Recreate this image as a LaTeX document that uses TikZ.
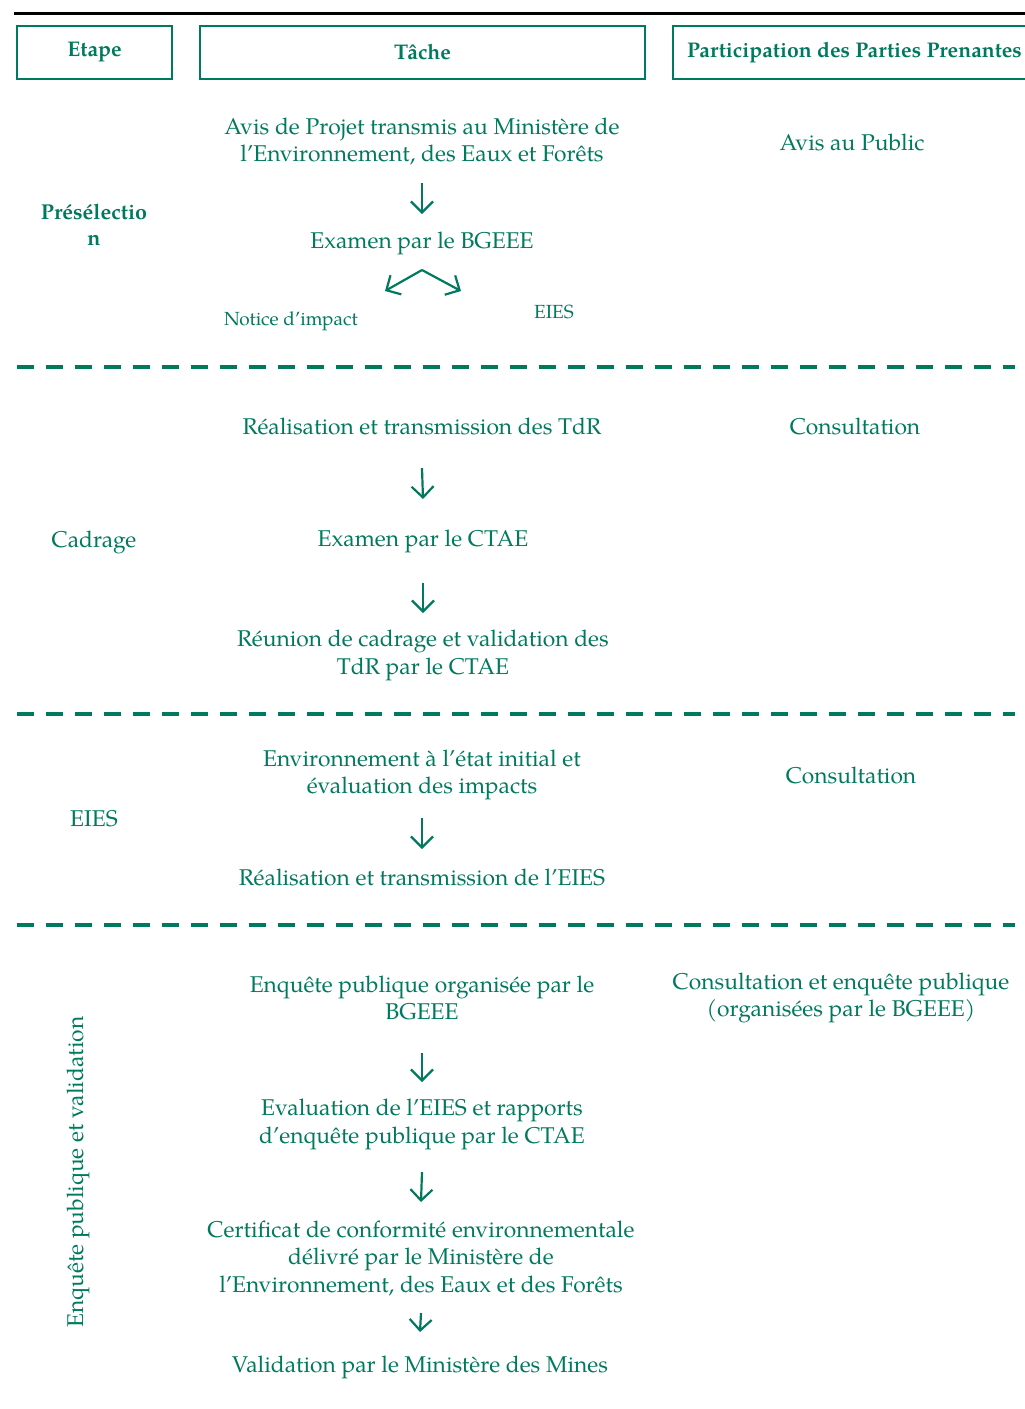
\documentclass[tikz,border=0pt]{standalone}
\usepackage{fontspec}
\setmainfont{TeX Gyre Pagella}
\usetikzlibrary{arrows.meta}
\definecolor{vert}{RGB}{0,122,94}
\begin{document}
\begin{tikzpicture}[x=1pt,y=-1pt,
  txt/.style={text=vert, font=\fontsize{22.8}{27.5}\selectfont, align=center, inner sep=0pt},
  small/.style={text=vert, font=\fontsize{19}{23}\selectfont, inner sep=0pt},
  bold/.style={text=vert, font=\bfseries\fontsize{21.5}{26}\selectfont, align=center, inner sep=0pt},
  hdr/.style={draw=vert, line width=2.5pt, text=vert, font=\bfseries\fontsize{21.2}{24}\selectfont, inner sep=0pt, minimum height=53pt},
  arr/.style={draw=vert, line width=2.2pt, -{Straight Barb[length=11pt,width=22pt,line width=2.2pt]}},
  sep/.style={draw=vert, line width=3.5pt, dash pattern=on 17pt off 12pt}]
\clip (0,0) rectangle (1025,1409);
\fill[white] (0,0) rectangle (1025,1409);
% top rule
\draw[line width=3pt] (14,13.5) -- (1025,13.5);
% headers
\node[hdr, minimum width=155pt] (hEtape) at (94.5,52.5) {Etape};
\node[hdr, minimum width=445pt] (hTache) at (422.5,52.5) {Tâche};
\node[hdr, minimum width=363pt] (hPart) at (854.5,52.5) {Participation des Parties Prenantes};
% separators
\coordinate (s1a) at (17,367); \coordinate (s1b) at (1015,367);
\coordinate (s2a) at (17,714); \coordinate (s2b) at (1015,714);
\coordinate (s3a) at (17,925); \coordinate (s3b) at (1015,925);
\draw[sep] (s1a) -- (s1b);
\draw[sep] (s2a) -- (s2b);
\draw[sep] (s3a) -- (s3b);
% Preselection
\node[bold] (e1) at (94,225) {Présélectio\\n};
\node[txt] (t1) at (422,141.5) {Avis de Projet transmis au Ministère de\\l’Environnement, des Eaux et Forêts};
\node[txt] (t2) at (422,243) {Examen par le BGEEE};
\node[small] (n1) at (291,321) {Notice d’impact};
\node[small] (n2) at (554,312) {EIES};
\node[txt] (p1) at (852,142) {Avis au Public};
\draw[arr] ([yshift=-41.5pt]t1.center) -- ([yshift=29pt]t2.center);
\coordinate (apex) at (422,270);
\coordinate (lft) at (385,291);
\coordinate (rgt) at (461,291);
\draw[arr] (apex) -- (lft);
\draw[arr] (apex) -- (rgt);
% Cadrage
\node[txt] (e2) at (94,542) {Cadrage};
\node[txt] (t3) at (422,426) {Réalisation et transmission des TdR};
\node[txt] (t4) at (423,541) {Examen par le CTAE};
\node[txt] (t5) at (423,655.5) {Réunion de cadrage et validation des\\TdR par le CTAE};
\node[txt] (p2) at (855,426) {Consultation};
\draw[arr] ([yshift=-42pt]t3.center) -- ([yshift=42pt]t4.center);
\draw[arr] ([yshift=-42pt]t4.center) -- ([yshift=42.5pt]t5.center);
% EIES
\node[txt] (e3) at (94,819) {EIES};
\node[txt] (t6) at (422,775) {Environnement à l’état initial et\\évaluation des impacts};
\node[txt] (t7) at (422,877) {Réalisation et transmission de l’EIES};
\node[txt] (p3) at (851,775) {Consultation};
\draw[arr] ([yshift=-43pt]t6.center) -- ([yshift=28pt]t7.center);
% Enquete
\node[txt, rotate=90] (e4) at (78,1172) {Enquête publique et validation};
\node[txt] (t8) at (422,998) {Enquête publique organisée par le\\BGEEE};
\node[txt] (t9) at (422,1124.5) {Evaluation de l’EIES et rapports\\d’enquête publique par le CTAE};
\node[txt] (t10) at (421,1258) {Certificat de conformité environnementale\\délivré par le Ministère de\\l’Environnement, des Eaux et des Forêts};
\node[txt] (t11) at (420,1367) {Validation par le Ministère des Mines};
\node[txt] (p4) at (841,998) {Consultation et enquête publique\\(organisées par le BGEEE)};
\draw[arr] ([yshift=-55pt]t8.center) -- ([yshift=42.5pt]t9.center);
\draw[arr] ([yshift=-47.5pt]t9.center) -- ([yshift=56pt]t10.center);
\draw[arr] ([yshift=-55pt]t10.center) -- ([yshift=35pt]t11.center);
\end{tikzpicture}
\end{document}
